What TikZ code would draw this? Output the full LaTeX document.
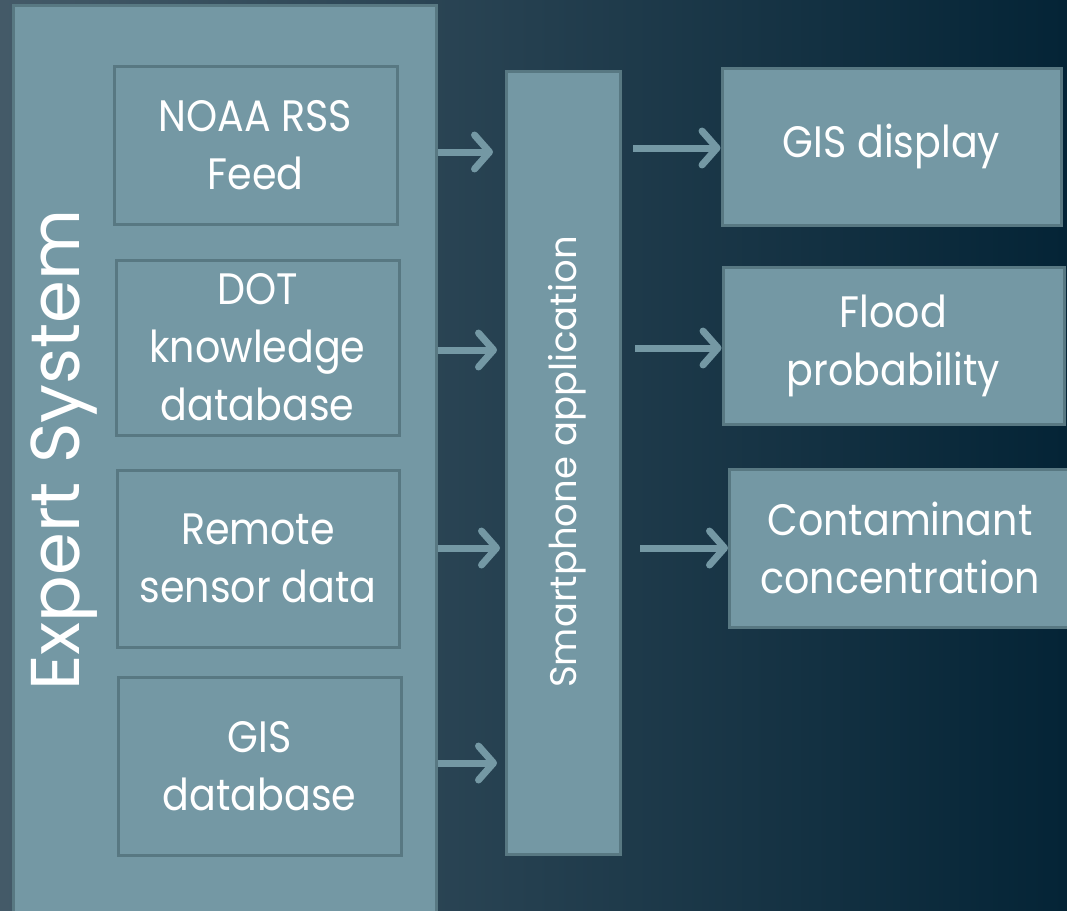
\documentclass[tikz,border=0pt]{standalone}
\usepackage{fontspec}
\setmainfont{Poppins}
\newfontfamily\boxfont{Poppins}[FakeStretch=0.9]
\usetikzlibrary{arrows.meta}
\definecolor{boxfill}{RGB}{116,152,164}
\definecolor{boxline}{RGB}{88,120,130}
\definecolor{bgl}{RGB}{68,90,104}
\definecolor{bgr}{RGB}{4,36,54}
\begin{document}
\begin{tikzpicture}[x=1pt,y=-1pt,
  box/.style={draw=boxline, line width=3pt, fill=boxfill, text=white, align=center, inner sep=0pt,
    font=\boxfont\fontsize{44}{58}\selectfont},
  arr/.style={draw=boxfill, line width=7pt, -{Straight Barb[length=15pt,width=34pt,round]}}]
\useasboundingbox (0,0) rectangle (1067,910);
\fill[left color=bgl, right color=bgr] (0,0) rectangle (1067,910);
\node[box, minimum width=423pt, minimum height=915pt] (expert) at (224.5,462.5) {};
\node[text=white, rotate=90, font=\fontsize{69}{80}\selectfont] (expertlbl) at (64,450) {Expert System};
\node[box, minimum width=283pt, minimum height=158pt] (noaa) at (255.5,145) {NOAA RSS\\Feed};
\node[box, minimum width=283pt, minimum height=175pt] (dot) at (257.5,347.5) {DOT\\knowledge\\database};
\node[box, minimum width=282pt, minimum height=177pt] (remote) at (258,558.5) {Remote\\sensor data};
\node[box, minimum width=283pt, minimum height=178pt] (gisdb) at (259.5,766) {GIS\\database};
\node[box, minimum width=114pt, minimum height=783pt] (smart) at (563,462.5) {};
\node[text=white, rotate=90, font=\fontsize{37}{46}\selectfont] (smartlbl) at (567,462) {Smartphone application};
\node[box, minimum width=339pt, minimum height=157pt] (gisdisp) at (891.5,146.5) {GIS display};
\node[box, minimum width=341pt, minimum height=157pt] (flood) at (893.5,345.5) {Flood\\probability};
\node[box, minimum width=341pt, minimum height=158pt] (contam) at (900,548) {Contaminant\\concentration};
% arrow end coordinates
\coordinate (a1) at (493,152);
\coordinate (a2) at (497,350);
\coordinate (a3) at (500,548);
\coordinate (a4) at (497,763);
\draw[arr] (expert.east |- a1) -- (a1);
\draw[arr] (expert.east |- a2) -- (a2);
\draw[arr] (expert.east |- a3) -- (a3);
\draw[arr] (expert.east |- a4) -- (a4);
\coordinate (b1) at (633,148);
\coordinate (b2) at (635,348);
\coordinate (b3) at (640,548);
\draw[arr] (b1) -- (gisdisp.west |- b1);
\draw[arr] (b2) -- (flood.west |- b2);
\draw[arr] (b3) -- (contam.west |- b3);
\end{tikzpicture}
\end{document}
